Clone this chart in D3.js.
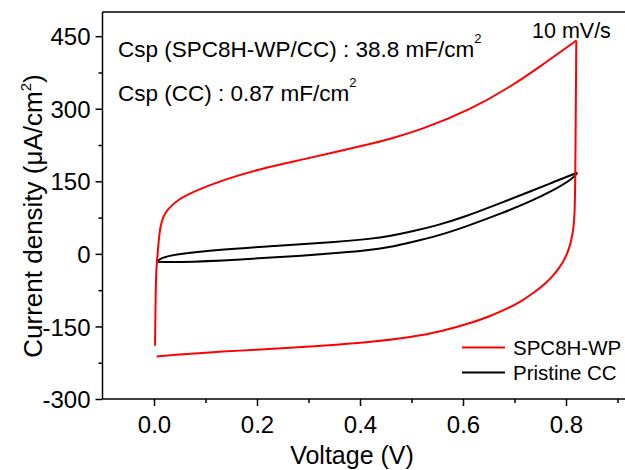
<!DOCTYPE html>
<html>
<head>
<meta charset="utf-8">
<script src="https://cdn.jsdelivr.net/npm/d3@7"></script>
<style>
  body { margin: 0; background: #fff; }
  svg { font-family: "Liberation Sans", Arial, sans-serif; }
  .axis path, .axis line { stroke: #000; stroke-width: 1.5; }
  .axis text { font-size: 24px; fill: #000; }
</style>
</head>
<body>
<svg id="chart" width="625" height="470"></svg>
<script>
// SPC8H-WP/CC loop, [voltage V, current uA/cm2]
let spcForward = [[0.002,-190],[0.003,-100],[0.004,-40],[0.006,-12],[0.009,25],[0.012,56],[0.018,78],[0.026,91],
  [0.045,112],[0.084,132],[0.135,153],[0.2,174],[0.284,194],[0.362,213],[0.42,227],[0.459,238],[0.517,256],
  [0.614,298],[0.692,345],[0.756,392],[0.82,441]];
let spcReverse = [[0.82,441],[0.819,300],[0.818,150],[0.817,90],[0.815,55],[0.81,25],[0.803,2],[0.793,-20],
  [0.78,-39],[0.76,-62],[0.737,-81],[0.71,-100],[0.686,-113],[0.65,-130],[0.621,-141],[0.557,-161],[0.5,-172],
  [0.426,-182],[0.35,-188],[0.298,-192],[0.23,-196],[0.168,-200],[0.1,-204],[0.038,-209],[0.005,-212]];
// bare carbon cloth loop
let ccForward = [[0.004,-16],[0.015,-8],[0.038,-2],[0.103,7],[0.232,16.5],[0.362,25],[0.42,31],[0.459,37],
  [0.5,46],[0.55,59],[0.6,75],[0.678,107],[0.73,129],[0.775,148],[0.822,168]];
let ccReverse = [[0.822,168],[0.814,156],[0.775,131],[0.73,108],[0.678,85],[0.6,54],[0.55,37],[0.5,24],
  [0.459,14],[0.42,8],[0.36,2],[0.297,-3],[0.168,-12],[0.038,-18],[0.004,-16]];

let xTicks = [0, 0.2, 0.4, 0.6, 0.8];
let yTicks = [-300, -150, 0, 150, 300, 450];
let legendNames = ["SPC8H-WP", "Pristine CC"];

let svg = d3.select("#chart");
let x = d3.scaleLinear().domain([-0.1, 0.92]).range([102.5, 627.8]);
let y = d3.scaleLinear().domain([-300, 500]).range([399, 12]);

// minor ticks
svg.append("g").attr("class", "axis").attr("transform", "translate(0,399)")
  .call(d3.axisBottom(x).tickValues([0.1, 0.3, 0.5, 0.7, 0.9]).tickSize(4).tickFormat(""))
  .select(".domain").remove();
svg.append("g").attr("class", "axis").attr("transform", "translate(102.5,0)")
  .call(d3.axisLeft(y).tickValues([-225, -75, 75, 225, 375]).tickSize(4).tickFormat(""))
  .select(".domain").remove();

// major axes
let xAxis = svg.append("g").attr("class", "axis").attr("transform", "translate(0,399)")
  .call(d3.axisBottom(x).tickValues(xTicks).tickSize(7).tickPadding(10).tickFormat(d3.format(".1f")));
xAxis.select(".domain").attr("d", "M" + x.range()[0] + ",0H" + x.range()[1]);
let yAxis = svg.append("g").attr("class", "axis").attr("transform", "translate(102.5,0)")
  .call(d3.axisLeft(y).tickValues(yTicks).tickSize(7).tickPadding(5).tickFormat(function(d){ return String(d); }));
yAxis.select(".domain").attr("d", "M0," + y.range()[0] + "V" + y.range()[1]);
yAxis.selectAll("text").attr("dy", "0.36em");

// top frame line
svg.append("line").attr("x1", x(-0.1)).attr("x2", 625).attr("y1", y(500)).attr("y2", y(500))
  .attr("stroke", "#000").attr("stroke-width", 1.5);

let line = d3.line().x(function(d){ return x(d[0]); }).y(function(d){ return y(d[1]); })
  .curve(d3.curveBasis);

[[ccForward, "#000"], [ccReverse, "#000"], [spcForward, "red"], [spcReverse, "red"]].forEach(function(s){
  svg.append("path").datum(s[0]).attr("d", line)
    .attr("fill", "none").attr("stroke", s[1]).attr("stroke-width", 2);
});

// axis titles
svg.append("text").attr("x", 352).attr("y", 464).attr("text-anchor", "middle")
  .attr("font-size", 25).text("Voltage (V)");
let yt = svg.append("text").attr("transform", "translate(42,216) rotate(-90)")
  .attr("text-anchor", "middle").attr("font-size", 26);
yt.append("tspan").text("Current density (\u03bcA/cm");
yt.append("tspan").attr("font-size", 15).attr("dy", -11).text("2");
yt.append("tspan").attr("dy", 11).text(")");

// annotations
let a1 = svg.append("text").attr("x", 118).attr("y", 57).attr("font-size", 22.5);
a1.append("tspan").text("Csp (SPC8H-WP/CC) : 38.8 mF/cm");
a1.append("tspan").attr("font-size", 13).attr("dy", -14).text("2");
let a2 = svg.append("text").attr("x", 118).attr("y", 101).attr("font-size", 22.5);
a2.append("tspan").text("Csp (CC) : 0.87 mF/cm");
a2.append("tspan").attr("font-size", 13).attr("dy", -14).text("2");
svg.append("text").attr("x", 532).attr("y", 38).attr("font-size", 21.5).text("10 mV/s");

// legend
let colors = ["red", "#000"];
legendNames.forEach(function(name, i){
  let ly = 347.5 + i * 25;
  svg.append("line").attr("x1", 462).attr("x2", 505).attr("y1", ly).attr("y2", ly)
    .attr("stroke", colors[i]).attr("stroke-width", 2);
  svg.append("text").attr("x", 513).attr("y", ly + 7.5).attr("font-size", 20.5).text(name);
});
</script>
</body>
</html>
